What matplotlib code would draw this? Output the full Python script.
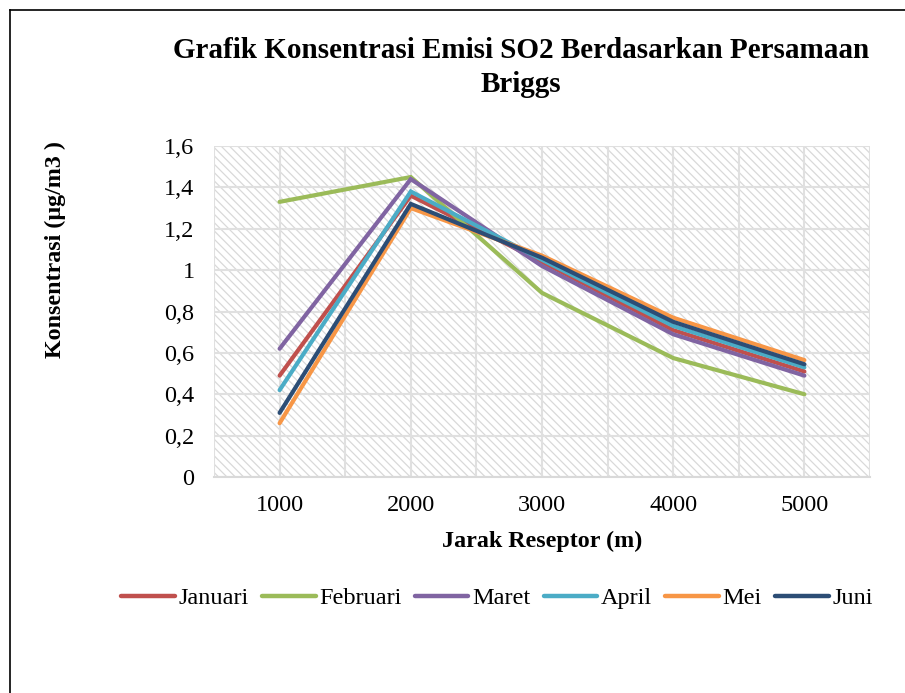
import matplotlib
matplotlib.use('Agg')
import matplotlib.pyplot as plt
import numpy as np
from matplotlib.patches import Rectangle
from matplotlib.lines import Line2D

plt.rcParams['font.family'] = ['Liberation Serif', 'DejaVu Serif']
plt.rcParams['hatch.linewidth'] = 0.9

jarak = ['1000', '2000', '3000', '4000', '5000']
bulan = ['Januari', 'Februari', 'Maret', 'April', 'Mei', 'Juni']
januari = [0.49, 1.36, 1.04, 0.71, 0.51]
februari = [1.33, 1.45, 0.89, 0.575, 0.40]
maret = [0.62, 1.44, 1.02, 0.69, 0.49]
april = [0.42, 1.38, 1.05, 0.73, 0.53]
mei = [0.26, 1.30, 1.07, 0.77, 0.565]
juni = [0.31, 1.32, 1.06, 0.75, 0.545]
warna = ['#C0504D', '#9BBB59', '#8064A2', '#4BACC6', '#F79646', '#2C4D75']
yticks = [0, 0.2, 0.4, 0.6, 0.8, 1, 1.2, 1.4, 1.6]
ylabels = ['0', '0,2', '0,4', '0,6', '0,8', '1', '1,2', '1,4', '1,6']

fig = plt.figure(figsize=(9.05, 6.93), dpi=100)
ax = fig.add_axes([214 / 905, 1 - 477 / 693, (870 - 214) / 905, (477 - 146) / 693])

x = np.arange(len(jarak))
ax.set_xlim(-0.5, 4.5)
ax.set_ylim(0, 1.6)

# hatched background
bg = Rectangle((0, 0), 1, 1, transform=ax.transAxes, facecolor='white',
               edgecolor='#d9d9d9', hatch='\\\\\\\\', linewidth=0, zorder=0)
ax.add_patch(bg)

ax.set_yticks(yticks)
ax.set_yticklabels(ylabels)
ax.set_xticks(x)
ax.set_xticklabels(jarak)
ax.set_xticks(np.arange(-0.5, 5, 1.0), minor=True)
ax.grid(True, which='both', color='#e0e0e0', linewidth=1.5, zorder=1)
ax.set_axisbelow(True)
ax.tick_params(which='both', length=0, labelsize=17.5)
ax.tick_params(axis='y', pad=14)
ax.tick_params(axis='x', pad=13)
for s in ['left', 'right', 'top']:
    ax.spines[s].set_visible(False)
ax.spines['bottom'].set_color('#d9d9d9')
ax.spines['bottom'].set_linewidth(1.5)

for data, nama, c in zip([januari, februari, maret, april, mei, juni], bulan, warna):
    ax.plot(x, data, color=c, linewidth=3, label=nama, solid_capstyle='round',
            solid_joinstyle='miter', zorder=3)

fig.text(542 / 905, 1 - 541 / 693, 'Jarak Reseptor (m)', fontsize=17.3,
         fontweight='bold', ha='center', va='center')
fig.text(55 / 905, 1 - 250 / 693, 'Konsentrasi (µg/m3 )', rotation=90, fontsize=17.3,
         fontweight='bold', ha='center', va='center')

fig.text(521 / 905, 1 - 50 / 693, 'Grafik Konsentrasi Emisi SO2 Berdasarkan Persamaan',
         fontsize=21, fontweight='bold', ha='center', va='center')
fig.text(521 / 905, 1 - 85 / 693, 'Briggs', fontsize=21, fontweight='bold',
         ha='center', va='center')

leg = fig.legend(loc='center', bbox_to_anchor=(497 / 905, 1 - 598 / 693), ncol=6,
                 frameon=False, fontsize=17.5, handlelength=2.2, handletextpad=0.15,
                 columnspacing=0.55, borderpad=0)
for h in leg.get_lines():
    h.set_linewidth(3.2)

# frame lines (left and top)
fig.add_artist(Line2D([10 / 905, 10 / 905], [0, 1 - 10 / 693], color='black',
                      linewidth=1.2, transform=fig.transFigure))
fig.add_artist(Line2D([10 / 905, 1], [1 - 10 / 693, 1 - 10 / 693], color='black',
                      linewidth=1.2, transform=fig.transFigure))

fig.savefig('out.png', dpi=100)
